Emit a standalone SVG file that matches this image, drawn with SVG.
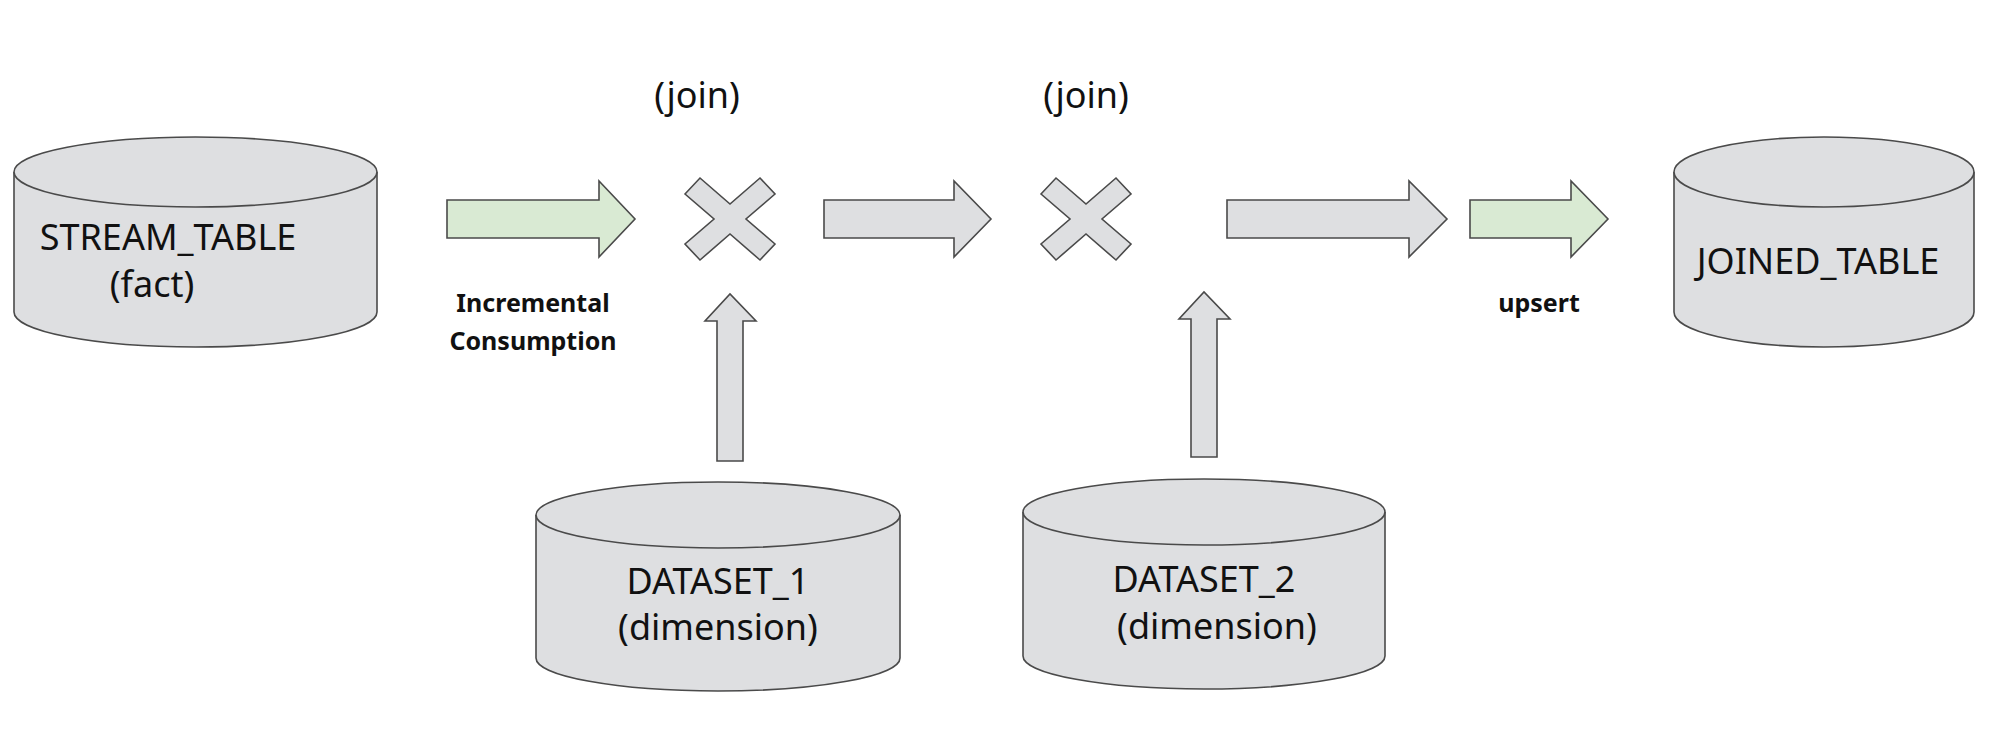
<svg xmlns="http://www.w3.org/2000/svg" width="1998" height="742" viewBox="0 0 1998 742">
<style>
.s{fill:#dedfe1;stroke:#4a4a4a;stroke-width:1.6}
.g{fill:#d9ead3;stroke:#4a4a4a;stroke-width:1.6}
.t{font-family:"Noto Sans",sans-serif;font-size:36px;fill:#111;text-anchor:middle}
.b{font-family:"Noto Sans",sans-serif;font-size:25px;font-weight:bold;fill:#111;text-anchor:middle}
</style>
<rect width="1998" height="742" fill="#fff"/>
<g id="stream_table">
<path class="s" d="M14 172 V312 A181.5 35 0 0 0 377 312 V172"/>
<ellipse class="s" cx="195.5" cy="172" rx="181.5" ry="35"/>
<text class="t" x="168" y="250">STREAM_TABLE</text>
<text class="t" x="152" y="297">(fact)</text>
</g>
<g id="joined_table">
<path class="s" d="M1674 172 V312 A150 35 0 0 0 1974 312 V172"/>
<ellipse class="s" cx="1824" cy="172" rx="150" ry="35"/>
<text class="t" x="1818" y="274">JOINED_TABLE</text>
</g>
<g id="dataset_1">
<path class="s" d="M536 515 V658 A182 33 0 0 0 900 658 V515"/>
<ellipse class="s" cx="718" cy="515" rx="182" ry="33"/>
<text class="t" x="718" y="594">DATASET_1</text>
<text class="t" x="718" y="640">(dimension)</text>
</g>
<g id="dataset_2">
<path class="s" d="M1023 512 V656 A181 33 0 0 0 1385 656 V512"/>
<ellipse class="s" cx="1204" cy="512" rx="181" ry="33"/>
<text class="t" x="1204" y="592">DATASET_2</text>
<text class="t" x="1217" y="639">(dimension)</text>
</g>
<g id="join_1">
<polygon class="s" points="685,194 700,178 730,204 760,178 775,194 746,219 775,244 760,260 730,234 700,260 685,244 714,219"/>
<text class="t" x="697" y="108" font-size="33">(join)</text>
</g>
<g id="join_2">
<polygon class="s" points="1041,194 1056,178 1086,204 1116,178 1131,194 1102,219 1131,244 1116,260 1086,234 1056,260 1041,244 1070,219"/>
<text class="t" x="1086" y="108" font-size="33">(join)</text>
</g>
<g id="connectors">
<polygon class="g" points="447,200 599,200 599,181 635,219 599,257 599,238 447,238"/>
<polygon class="s" points="824,200 954,200 954,181 991,219 954,257 954,238 824,238"/>
<polygon class="s" points="1227,200 1409,200 1409,181 1447,219 1409,257 1409,238 1227,238"/>
<polygon class="g" points="1470,200 1571,200 1571,181 1608,219 1571,257 1571,238 1470,238"/>
<polygon class="s" points="717,461 717,321 705,321 730,294 756,321 743,321 743,461"/>
<polygon class="s" points="1191,457 1191,319 1179,319 1204,292 1230,319 1217,319 1217,457"/>
<text class="b" x="533" y="312">Incremental</text>
<text class="b" x="533" y="350">Consumption</text>
<text class="b" x="1539" y="312">upsert</text>
</g>
</svg>
